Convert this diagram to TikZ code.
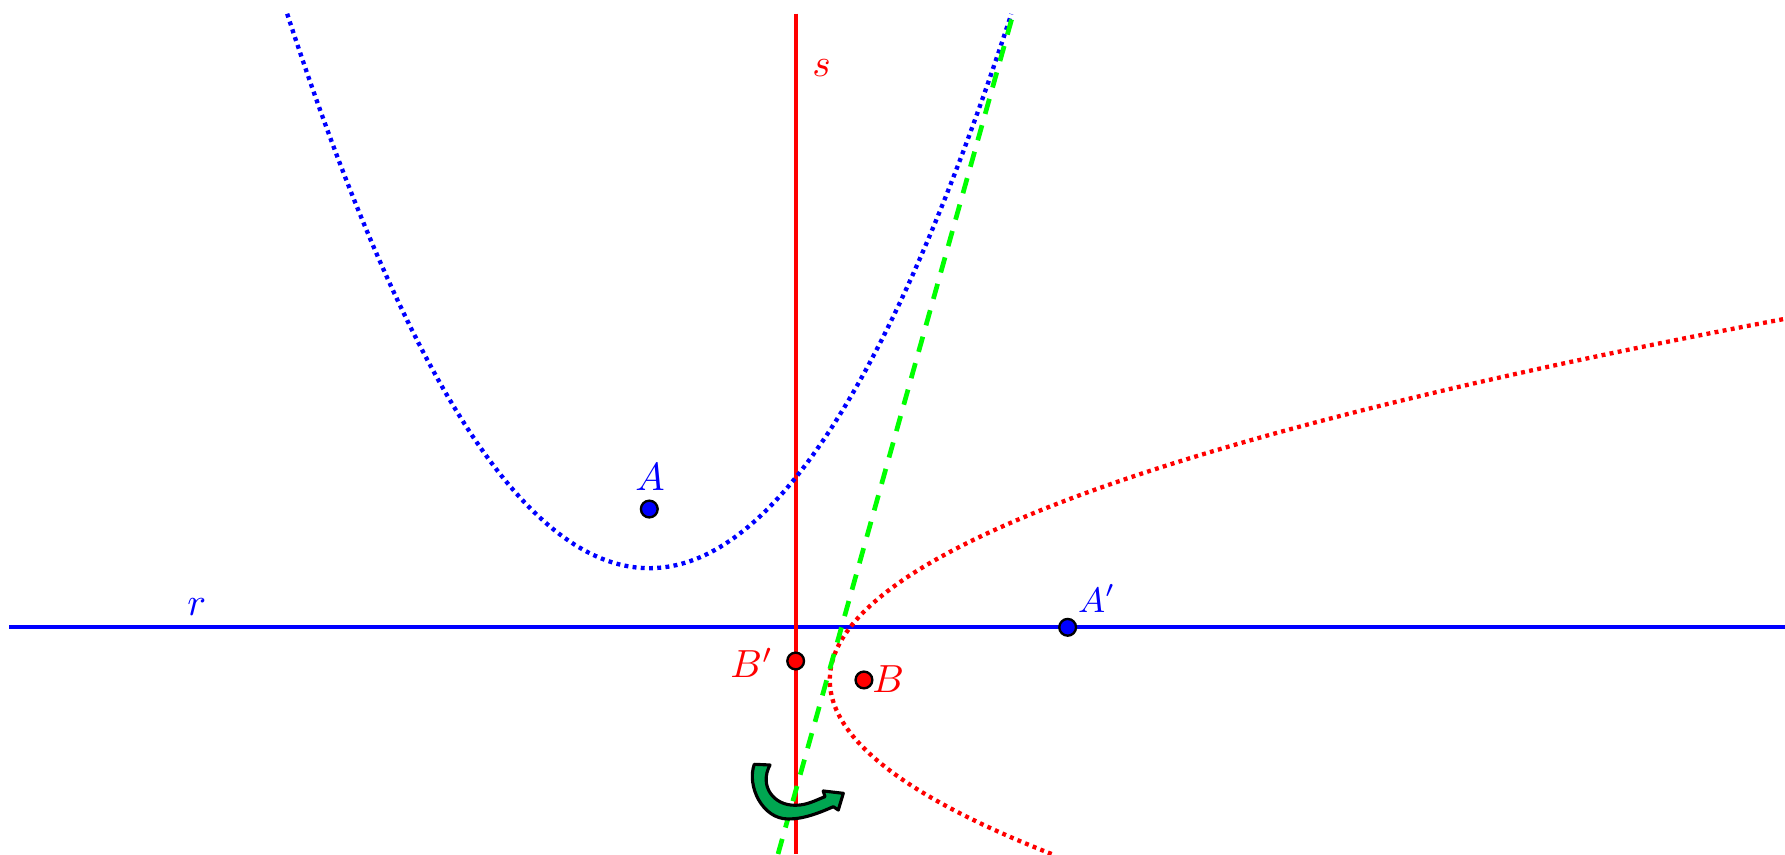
\documentclass[tikz,border=0pt]{standalone}
\usepackage{amsmath, amssymb}
\usepackage{tikz}
\usetikzlibrary{arrows.meta, positioning, calc}
\definecolor{ggblue}{HTML}{0000FF}
\definecolor{ggred}{HTML}{FF0000}
\definecolor{gggreen}{HTML}{00FF00}
\definecolor{turnc}{HTML}{00A651}
\newcommand{\geopt}[3]{%
  \node[circle, draw=black, fill=#3, line width=0.6pt,
        minimum size=1.5mm, inner sep=0pt] (#1) at #2 {};
}

\begin{document}
\begin{tikzpicture}[>=Stealth, line width=1pt, font=\normalsize]
        \useasboundingbox (-7.132,-2.032) rectangle (8.868,5.623);
        % directrices r and s
        \coordinate (r0) at (-7.05,0);
        \coordinate (r1) at (8.868,0);
        \coordinate (s0) at (0,5.50);
        \coordinate (s1) at (0,-2.032);
        \draw[ggblue] (r0) -- (r1);
        \draw[ggred] (s0) -- (s1);
        \node[ggblue] (r) at (-5.369,0.185) {$r$};
        \node[ggred] (s) at (0.233,5.013) {$s$};
        % the two parabolas
        \draw[ggblue, line width=1.1pt, dash pattern=on 1pt off 1.1pt]
          plot[domain=-4.558:1.934, samples=150]
          (\x, {(\x+1.312)^2/2.12+0.53});
        \draw[ggred, line width=1.1pt, dash pattern=on 1pt off 1.1pt]
          plot[domain=-2.032:2.765, samples=150]
          ({(\x+0.472)^2/1.224+0.306}, \x);
        % common tangent
        \coordinate (t0) at (-0.158,-2.032);
        \coordinate (t1) at (1.950,5.500);
        \draw[gggreen, line width=1.2pt, dash pattern=on 4pt off 3pt] (t0) -- (t1);
        % turn arrow
        \draw[black, fill=turnc, line width=0.8pt, line join=round]
          (-0.371,-1.228) -- (-0.230,-1.234)
          .. controls (-0.33,-1.42) and (-0.20,-1.60) .. (0.0,-1.595)
          .. controls (0.10,-1.595) and (0.18,-1.55) .. (0.263,-1.518)
          -- (0.247,-1.467) -- (0.427,-1.488) -- (0.382,-1.638) -- (0.337,-1.608)
          .. controls (0.22,-1.66) and (0.07,-1.72) .. (-0.066,-1.718)
          .. controls (-0.30,-1.72) and (-0.44,-1.42) .. (-0.371,-1.228)
          -- cycle;
        % points and labels
        \foreach \n/\p/\c in {A/{(-1.312,1.060)}/ggblue, Ap/{(2.438,0)}/ggblue,
                              B/{(0.612,-0.472)}/ggred, Bp/{(0,-0.302)}/ggred}{
          \geopt{\n}{\p}{\c}
        }
        \node[ggblue] (labA) at (-1.306,1.350) {$A$};
        \node[ggblue, font=\small] (labAp) at (2.700,0.255) {$A'$};
        \node[ggred] (labB) at (0.830,-0.466) {$B$};
        \node[ggred] (labBp) at (-0.394,-0.317) {$B'$};
      \end{tikzpicture}
\end{document}
